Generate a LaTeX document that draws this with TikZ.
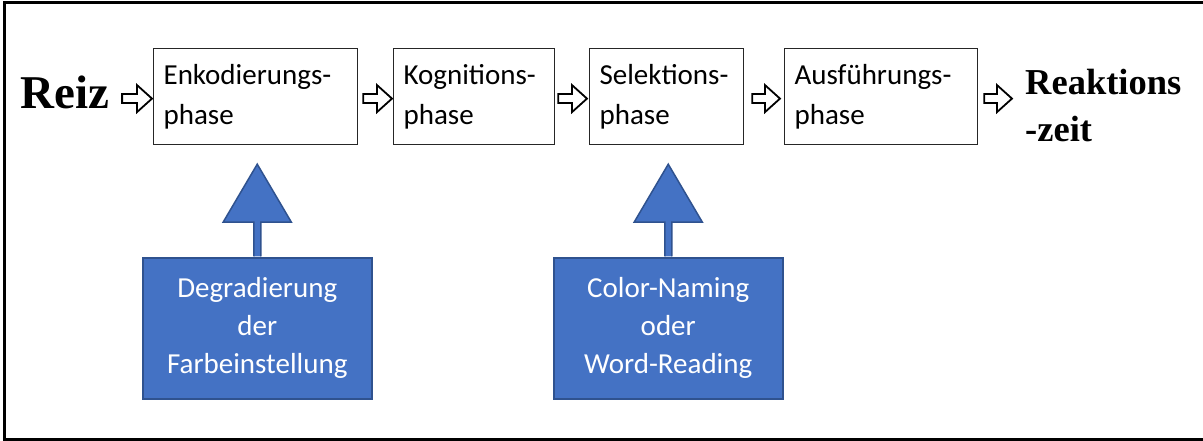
\documentclass[tikz,border=0pt]{standalone}
\usepackage{fontspec}
\setmainfont{Carlito}
\newfontfamily\tnr{Liberation Serif}
\usetikzlibrary{calc}
\definecolor{accblue}{HTML}{4472C4}
\definecolor{accborder}{HTML}{2F528F}
\newcommand\hollowarrow[5]{% #1 from, #2 to, #3 y-ref, #4 start gap, #5 end gap
  \draw[hollow] let \p1=(#1), \p2=(#2), \p3=(#3) in
    (\x1+#4,\y3-2pt+4.5pt) -- (\x2-#5-15pt,\y3-2pt+4.5pt) -- (\x2-#5-15pt,\y3-2pt+13.5pt)
    -- (\x2-#5,\y3-2pt) -- (\x2-#5-15pt,\y3-2pt-13.5pt) -- (\x2-#5-15pt,\y3-2pt-4.5pt)
    -- (\x1+#4,\y3-2pt-4.5pt) -- cycle;}
\newcommand\influence[2]{% #1 blue box, #2 phase box
  \draw[uparrow] let \p1=(#1.north), \p2=(#2.south) in
    (\x1-3.5pt,\y1+0.75pt) -- (\x1-3.5pt,\y1+35pt) -- (\x1-34pt,\y1+35pt) -- (\x1,\y2-19pt)
    -- (\x1+34pt,\y1+35pt) -- (\x1+3.5pt,\y1+35pt) -- (\x1+3.5pt,\y1+0.75pt);}
\begin{document}
\begin{tikzpicture}[x=1pt,y=-1pt,
  phase/.style={draw=black!85, line width=1.2pt, fill=white, rectangle, minimum height=96pt,
    inner xsep=10pt, inner ysep=0pt, align=left, font=\fontsize{29}{40}\selectfont, anchor=north west},
  factor/.style={draw=accborder, line width=1.5pt, fill=accblue, text=white, minimum height=141pt,
    minimum width=229pt, align=center, font=\fontsize{29}{38}\selectfont, anchor=north west, inner sep=0pt},
  hollow/.style={draw=black, line width=1.8pt, fill=white, line join=miter},
  uparrow/.style={draw=accborder, line width=1.5pt, fill=accblue, line join=miter},
  frame/.style={line width=3pt, line join=miter}]
\useasboundingbox (0,0) rectangle (1203,441);
\draw[frame] (1203,2.5) -- (4,2.5) -- (4,439.5) -- (1203,439.5);

\node[anchor=base west, inner sep=0pt, font=\tnr\bfseries\fontsize{47}{56}\selectfont] (reiz) at (20,109) {Reiz};
\node[phase, text width=184pt] (enc) at (153,48) {Enkodierungs-\\phase};
\node[phase, text width=141pt] (kog) at (393,48) {Kognitions-\\phase};
\node[phase, text width=134pt] (sel) at (589,48) {Selektions-\\phase};
\node[phase, text width=173pt] (aus) at (784,48) {Ausführungs-\\phase};
\node[anchor=north west, inner sep=0pt, align=left, font=\tnr\bfseries\fontsize{36.5}{47}\selectfont] (rt) at (1025,69) {Reaktions\\-zeit};

\hollowarrow{reiz.east}{enc.west}{enc.west}{13pt}{1pt}
\hollowarrow{enc.east}{kog.west}{enc.east}{5pt}{1pt}
\hollowarrow{kog.east}{sel.west}{kog.east}{3pt}{2pt}
\hollowarrow{sel.east}{aus.west}{sel.east}{8pt}{4pt}
\hollowarrow{aus.east}{rt.west}{aus.east}{6pt}{13pt}

\node[factor] (deg) at (142,257) {Degradierung\\der\\Farbeinstellung};
\node[factor] (col) at (553,257) {Color-Naming\\oder\\Word-Reading};
\influence{deg}{enc}
\influence{col}{sel}
\end{tikzpicture}
\end{document}
